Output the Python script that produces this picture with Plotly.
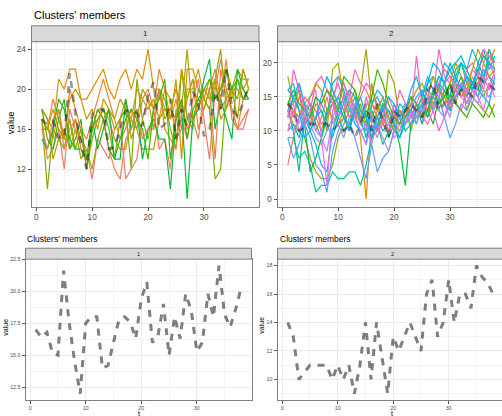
import plotly.graph_objects as go

# ---------------- data ----------------
t = list(range(1, 39))

# cluster 1 members
c1_s1 = [17,13,14,16,12,18,16,15,14,11,15,14,13,16,17,11,12,13,17,19,18,14,15,12,18,17,15,19,21,17,13,20,23,20,18,16,16,18]
c1_s2 = [17,16,19,17,15,20,18,16,15,17,19,21,19,17,15,16,18,16,19,20,18,22,20,17,19,16,19,21,16,18,20,22,19,23,17,16,19,20]
c1_s3 = [18,17,16,21,20,22,22,19,19,20,21,22,20,19,21,22,20,22,21,24,20,20,18,17,21,13,22,22,20,19,21,20,20,22,19,21,20,21]
c1_s4 = [16,16,18,16,15,15,17,15,13,16,17,18,17,15,14,14,17,16,14,14,14,17,20,19,15,16,20,20,22,19,18,21,17,18,20,20,19,20]
c1_s5 = [18,17,13,15,16,14,16,13,14,12,15,17,18,16,17,19,15,17,20,19,16,20,17,18,20,18,24,17,19,18,20,21,24,18,20,22,21,21]
c1_s6 = [17,10,16,15,14,17,14,16,12,15,17,18,16,13,17,18,12,21,17,15,18,20,19,16,14,22,17,16,20,19,18,11,12,20,20,19,22,20]
c1_s7 = [15,14,16,19,18,15,14,14,13,17,14,16,18,13,13,19,16,18,13,16,17,15,15,10,17,18,9,17,18,21,23,16,19,17,15,22,20,19]
c1_s8 = [16,14,17,18,14,16,17,14,13,16,18,17,14,12,11,15,16,18,15,16,16,20,16,15,14,19,16,17,15,20,20,13,22,19,18,16,17,18]
c1_s9 = [18,15,14,17,19,14,15,17,12,16,18,17,14,13,15,17,18,17,16,13,18,19,21,13,17,19,15,18,19,20,21,19,20,22,20,21,19,19]
c1_s10 = [17,16,15,18,15,19,20,19,17,18,16,19,18,17,19,18,17,20,19,18,19,17,18,18,17,22,19,21,18,20,19,21,18,19,20,17,22,20]
cluster1 = [c1_s1, c1_s2, c1_s3, c1_s4, c1_s5, c1_s6, c1_s7, c1_s8, c1_s9, c1_s10]

# cluster 2 members
c2_s1 = [5,9,12,14,13,10,12,15,11,13,12,10,14,12,11,9,13,15,12,10,11,13,12,14,11,13,16,15,12,14,16,17,15,18,16,20,22,19]
c2_s2 = [14,12,15,13,11,12,10,13,14,11,12,15,13,9,0,12,14,11,10,12,13,11,14,13,15,12,14,16,15,13,17,15,16,17,19,21,20,22]
c2_s3 = [18,14,16,12,11,14,13,10,19,20,15,12,13,16,22,14,12,11,19,17,12,14,10,13,12,15,14,13,16,15,14,17,13,15,14,13,12,14]
c2_s4 = [13,11,10,9,6,4,3,3,5,9,11,13,12,14,11,9,10,12,13,11,10,12,13,11,14,12,15,14,16,13,15,17,14,16,18,15,17,16]
c2_s5 = [12,15,16,11,4,6,9,12,14,15,13,10,14,11,13,12,10,14,9,11,8,2,11,12,14,13,11,15,17,14,16,18,15,17,16,19,18,17]
c2_s6 = [9,9,6,7,5,1,2,2,4,3,3,4,4,2,5,9,12,10,11,13,12,10,11,13,14,12,16,18,17,15,19,20,17,16,20,22,19,21]
c2_s7 = [13,10,4,12,14,11,9,13,15,12,10,11,14,12,9,13,11,8,10,12,11,13,12,14,11,15,13,17,16,14,18,20,19,17,15,18,21,20]
c2_s8 = [16,17,13,11,12,15,14,12,17,18,16,13,15,11,10,14,15,13,12,11,14,13,15,12,13,17,18,16,20,19,17,20,18,16,19,17,22,20]
c2_s9 = [10,11,9,12,10,8,5,4,10,13,15,14,11,10,8,14,16,15,12,10,9,11,12,13,15,18,16,17,14,13,15,16,18,17,16,15,14,18]
c2_s10 = [9,6,8,11,9,5,4,1,7,10,12,11,9,6,3,8,4,6,7,10,12,14,13,11,14,16,13,15,12,9,11,14,13,16,15,17,18,16]
c2_s11 = [12,13,11,14,12,10,9,7,12,14,13,15,12,10,11,8,12,14,11,9,10,13,11,14,12,15,13,16,14,12,16,17,15,14,17,19,18,16]
c2_s12 = [13,14,10,12,15,16,9,2,13,15,17,14,12,10,8,11,9,12,10,14,12,11,13,12,13,14,16,15,17,18,16,15,14,16,15,13,17,15]
c2_s13 = [12,19,16,11,13,17,18,16,14,12,15,16,13,11,15,12,10,11,13,12,16,14,12,21,14,16,15,22,18,17,16,15,17,19,18,16,20,18]
c2_s14 = [14,12,17,13,11,12,14,16,15,17,14,12,13,15,17,16,14,12,15,13,11,12,14,13,12,11,13,10,12,15,14,13,16,15,17,18,16,19]
c2_s15 = [10,13,12,15,14,13,11,12,14,18,17,15,19,17,16,14,13,12,10,11,13,12,15,14,16,13,15,17,19,18,17,16,19,20,18,22,21,20]
c2_s16 = [14,13,12,14,15,17,16,13,12,11,13,14,16,12,11,17,13,15,12,10,13,12,14,16,17,15,18,16,15,17,20,18,16,19,22,20,18,19]
c2_s17 = [14,16,14,13,12,15,14,16,15,13,18,17,16,13,12,15,19,17,14,12,11,13,15,14,12,13,16,14,15,17,14,13,12,14,13,12,14,12]
c2_s18 = [16,15,13,9,10,12,15,18,16,14,12,10,13,15,12,9,11,13,15,14,12,13,16,18,15,17,20,19,17,20,18,16,18,17,19,21,20,19]
c2_s19 = [11,10,12,13,11,9,8,10,12,11,9,12,14,13,10,12,11,9,7,10,12,11,13,12,14,16,15,13,12,14,15,17,16,15,14,16,15,17]
c2_s20 = [13,15,17,14,10,12,13,11,9,12,14,16,15,13,12,10,12,14,13,11,9,12,13,15,16,14,15,18,17,19,20,21,19,22,20,18,20,19]
cluster2 = [c2_s1, c2_s2, c2_s3, c2_s4, c2_s5, c2_s6, c2_s7, c2_s8, c2_s9, c2_s10,
            c2_s11, c2_s12, c2_s13, c2_s14, c2_s15, c2_s16, c2_s17, c2_s18, c2_s19, c2_s20]

# centroids
centroid1 = [17,16.4,16.8,15.2,15,21.6,17.6,14.5,12,17.5,18,18,14,14.2,16,17.8,18,17.6,16.3,19.4,
             20.7,16,16.5,19,15,18,16.3,19.8,18.5,15.3,16,19.8,18,22,18.2,17.2,18.6,20.3]
centroid2 = [14,13,10,10.5,11,11,11,11,10,11,10,11,9,11,14,10,14,11.5,9,13,
             12,13,14,13,12,16,17,13,14,17,14,16,16,15,18,17.2,16.8,16]

cluster_labels = ["1", "2"]
title_text = "Clusters' members"
y_title = "value"
x_title = "t"

# ---------------- styles ----------------
colors1 = ["#F8766D", "#EA8331", "#D89000", "#C09B00", "#A3A500",
           "#7CAE00", "#00BA38", "#EF7F49", "#39B600", "#BB9D00"]
colors2 = ["#F8766D", "#E58700", "#A3A500", "#8CAB00", "#00BA38",
           "#00C19F", "#00C08B", "#00BFC4", "#00B4F0", "#619CFF",
           "#B983FF", "#E76BF3", "#FF61C3", "#FD61D1", "#FF67A4",
           "#B79F00", "#39B600", "#00B0F6", "#9590FF", "#00BCD8"]

W, H = 502, 416
FONT = "Liberation Sans, Arial, sans-serif"
def px(x): return x / W
def py(y): return 1 - y / H

fig = go.Figure()

def add_line(x, y, color, width, xa, ya, dash=None):
    fig.add_trace(go.Scatter(x=x, y=y, mode="lines",
                             line=dict(color=color, width=width, dash=dash),
                             xaxis=xa, yaxis=ya, hoverinfo="skip", showlegend=False))

for s, c in zip(cluster1, colors1):
    add_line(t[:len(s)], s, c, 1.2, "x", "y")
add_line(t, centroid1, "rgba(0,0,0,0.4)", 2.6, "x", "y", "7px,7px")
for s, c in zip(cluster2, colors2):
    add_line(t[:len(s)], s, c, 1.2, "x2", "y2")
add_line(t, centroid2, "rgba(0,0,0,0.4)", 2.6, "x2", "y2", "7px,7px")
add_line(t, centroid1, "rgba(0,0,0,0.5)", 3, "x3", "y3", "7px,7px")
add_line(t, centroid2, "rgba(0,0,0,0.5)", 3, "x4", "y4", "7px,7px")

BORDER = "#7F7F7F"
def ax(domain, rng, tickvals, minor, fs, anchor, mirror=True, ticktext=None):
    d = dict(domain=domain, range=rng, tickvals=tickvals, anchor=anchor,
             showgrid=True, gridcolor="#EBEBEB", gridwidth=1, zeroline=False,
             ticks="outside", ticklen=3, tickcolor="#555555", tickwidth=1,
             showline=True, linecolor=BORDER, linewidth=1, mirror=mirror,
             tickfont=dict(size=fs, color="#4D4D4D", family=FONT),
             minor=dict(tickvals=minor, showgrid=True, gridcolor="#F3F3F3", gridwidth=0.7),
             fixedrange=True)
    if ticktext is not None:
        d["ticktext"] = ticktext
    return d

top_y = [py(205), py(39)]
bot_y = [py(400), py(258)]

fig.update_layout(
    width=W, height=H, margin=dict(l=0, r=0, t=0, b=0),
    paper_bgcolor="white", plot_bgcolor="white", showlegend=False,
    font=dict(family=FONT),
    xaxis=ax([px(31.5), px(259)], [-0.85, 39.85], [0, 10, 20, 30], [5, 15, 25, 35], 8.2, "y"),
    yaxis=ax(top_y, [8.25, 24.75], [12, 16, 20, 24], [10, 14, 18, 22], 8.2, "x"),
    xaxis2=ax([px(277.5), 1], [-0.85, 39.3], [0, 10, 20, 30], [5, 15, 25, 35], 8.2, "y2"),
    yaxis2=ax(top_y, [-1.1, 23.1], [0, 5, 10, 15, 20], [2.5, 7.5, 12.5, 17.5, 22.5], 8.2, "x2", mirror=False),
    xaxis3=ax([px(25.5), px(251.5)], [-0.85, 39.85], [0, 10, 20, 30], [5, 15, 25, 35], 5.3, "y3"),
    yaxis3=ax(bot_y, [11.5, 22.5], [12.5, 15, 17.5, 20, 22.5], [13.75, 16.25, 18.75, 21.25], 5.3, "x3",
              ticktext=["12.5", "15.0", "17.5", "20.0", "22.5"]),
    xaxis4=ax([px(277.5), 1], [-0.85, 39.6], [0, 10, 20, 30], [5, 15, 25, 35], 5.3, "y4"),
    yaxis4=ax(bot_y, [8.55, 18.45], [10, 12, 14, 16, 18], [9, 11, 13, 15, 17], 5.3, "x4", mirror=False),
)

# strips
strips = [(31.5, 259, 23, 39), (277.5, 506, 23, 39), (25.5, 251.5, 247, 258), (277.5, 506, 247, 258)]
for x0, x1, y0, y1 in strips:
    fig.add_shape(type="rect", xref="paper", yref="paper", x0=px(x0), x1=px(x1), y0=py(y1), y1=py(y0),
                  fillcolor="#D9D9D9", line=dict(color=BORDER, width=1), layer="above")

def ann(text, x, y, size, color="black", xanchor="center", angle=0):
    fig.add_annotation(text=text, x=px(x), y=py(y), xref="paper", yref="paper",
                       xanchor=xanchor, yanchor="middle", showarrow=False, textangle=angle,
                       font=dict(size=size, color=color, family=FONT))

ann(title_text, 31.5, 12, 11, xanchor="left")
ann(cluster_labels[0], 145, 31, 8, "#1A1A1A")
ann(cluster_labels[1], 391, 31, 8, "#1A1A1A")
ann(y_title, 10, 121, 9.5, angle=-90)

ann(title_text, 25, 238, 8.5, xanchor="left")
ann(title_text, 278, 238, 8.5, xanchor="left")
ann(cluster_labels[0], 138.5, 252.5, 5.6, "#1A1A1A")
ann(cluster_labels[1], 392, 252.5, 5.6, "#1A1A1A")
ann(y_title, 6, 327, 7, angle=-90)
ann(y_title, 262, 325, 7, angle=-90)
ann(x_title, 138.5, 413.5, 7)
ann(x_title, 392, 413.5, 7)

fig.write_html("out.html")
